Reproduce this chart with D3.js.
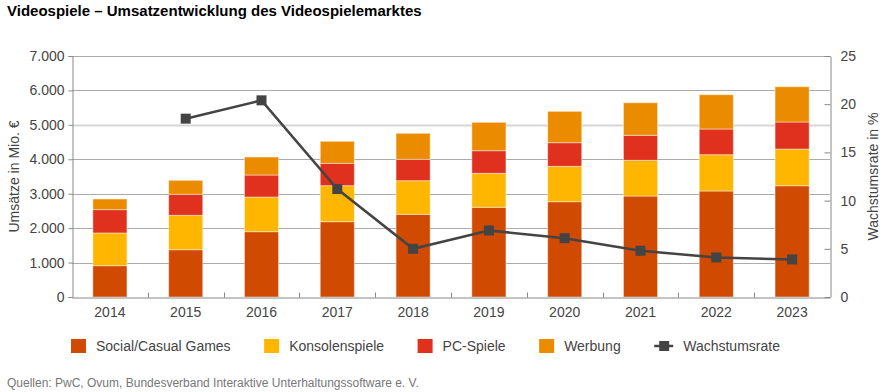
<!DOCTYPE html>
<html>
<head>
<meta charset="utf-8">
<script src="https://cdn.jsdelivr.net/npm/d3@7"></script>
<style>
  body { margin: 0; background: #fff; }
  svg { display: block; font-family: "Liberation Sans", Arial, sans-serif; }
</style>
</head>
<body>
<div id="app"></div>
<script>
// data
const years = ['2014', '2015', '2016', '2017', '2018', '2019', '2020', '2021', '2022', '2023'];
const socialCasual = [910, 1374, 1897, 2187, 2402, 2605, 2768, 2933, 3079, 3233];
const konsolen = [950, 999, 1007, 1046, 976, 988, 1028, 1037, 1054, 1065];
const pcSpiele = [677, 610, 639, 650, 621, 656, 686, 726, 746, 785];
const werbung = [310, 406, 523, 639, 755, 825, 911, 947, 997, 1025];
const wachstum = [null, 18.5, 20.4, 11.2, 5.0, 6.9, 6.1, 4.8, 4.1, 3.9];

const seriesNames = ['Social/Casual Games', 'Konsolenspiele', 'PC-Spiele', 'Werbung'];
const seriesColors = ['#d04a02', '#ffb600', '#e0301e', '#eb8c00'];
const leftTicks = [0, 1000, 2000, 3000, 4000, 5000, 6000, 7000];
const rightTicks = [0, 5, 10, 15, 20, 25];

const W = 885, H = 392;
const plotLeft = 72, plotRight = 830, plotTop = 56, plotBottom = 297;
const lineColor = '#444';

const svg = d3.select('#app').append('svg').attr('width', W).attr('height', H);

const x = d3.scaleBand().domain(years).range([plotLeft, plotRight]).paddingInner(0.55).paddingOuter(0.275);
const y = d3.scaleLinear().domain([0, 7000]).range([plotBottom, plotTop]);
const y2 = d3.scaleLinear().domain([0, 25]).range([plotBottom, plotTop]);

// title
svg.append('text')
	.attr('x', 7).attr('y', 16)
	.attr('font-size', 15).attr('font-weight', 'bold').attr('fill', '#000')
	.text('Videospiele – Umsatzentwicklung des Videospielemarktes');

// gridlines
svg.append('g')
	.selectAll('line')
	.data(leftTicks.filter((d) => d > 0))
	.join('line')
	.attr('x1', plotLeft).attr('x2', plotRight)
	.attr('y1', (d) => Math.round(y(d)) + 0.5).attr('y2', (d) => Math.round(y(d)) + 0.5)
	.attr('stroke', (d) => (d === 5000 ? '#d6d6d6' : '#ababab'))
	.attr('stroke-width', (d) => (d === 5000 ? 2 : 1));

// stacked bars
const table = years.map((yr, i) => ({
	year: yr,
	'Social/Casual Games': socialCasual[i],
	Konsolenspiele: konsolen[i],
	'PC-Spiele': pcSpiele[i],
	Werbung: werbung[i],
}));
const stacked = d3.stack().keys(seriesNames)(table);

svg.append('g')
	.selectAll('g')
	.data(stacked)
	.join('g')
	.attr('fill', (d, i) => seriesColors[i])
	.selectAll('rect')
	.data((d) => d)
	.join('rect')
	.attr('x', (d) => x(d.data.year))
	.attr('width', x.bandwidth())
	.attr('y', (d) => y(d[1]))
	.attr('height', (d) => y(d[0]) - y(d[1]))
	.attr('stroke', 'rgba(255,255,255,0.45)')
	.attr('stroke-width', 1);

const fontFam = '"Liberation Sans", Arial, sans-serif';

// left axis
const leftAxis = svg.append('g')
	.attr('transform', `translate(${plotLeft + 0.5},0)`)
	.call(d3.axisLeft(y).tickValues(leftTicks).tickSize(4).tickPadding(4)
		.tickFormat((d) => d3.format(',')(d).replace(/,/g, '.')));
leftAxis.select('.domain').attr('stroke', '#888');
leftAxis.selectAll('.tick line').attr('stroke', '#888');
leftAxis.selectAll('.tick text').attr('font-size', 14).attr('fill', '#444').attr('font-family', fontFam);

// right axis
const rightAxis = svg.append('g')
	.attr('transform', `translate(${plotRight + 0.5},0)`)
	.call(d3.axisRight(y2).tickValues(rightTicks).tickSize(0).tickPadding(10));
rightAxis.select('.domain').attr('stroke', '#888');
rightAxis.selectAll('.tick text').attr('font-size', 14).attr('fill', '#444').attr('font-family', fontFam);
rightAxis.selectAll('.tick')
	.append('line')
	.attr('x1', -6).attr('x2', 0)
	.attr('stroke', '#888');

// bottom axis
const bottomAxis = svg.append('g')
	.attr('transform', `translate(0,${plotBottom + 0.5})`)
	.call(d3.axisBottom(x).tickSize(0).tickPadding(10));
bottomAxis.select('.domain').attr('stroke', '#888');
bottomAxis.selectAll('.tick text').attr('font-size', 14).attr('fill', '#444').attr('font-family', fontFam);
bottomAxis.selectAll('line.sep')
	.data(years.slice(1))
	.join('line')
	.attr('class', 'sep')
	.attr('x1', (d) => Math.round(x(d) - x.step() * x.paddingInner() / 2) + 0.5)
	.attr('x2', (d) => Math.round(x(d) - x.step() * x.paddingInner() / 2) + 0.5)
	.attr('y1', 0).attr('y2', -5)
	.attr('stroke', '#888');

// axis titles
svg.append('text')
	.attr('transform', `translate(19,${(plotTop + plotBottom) / 2}) rotate(-90)`)
	.attr('text-anchor', 'middle')
	.attr('font-size', 14).attr('fill', '#444')
	.text('Umsätze in Mio. €');
svg.append('text')
	.attr('transform', `translate(878,${(plotTop + plotBottom) / 2}) rotate(-90)`)
	.attr('text-anchor', 'middle')
	.attr('font-size', 14).attr('fill', '#444')
	.text('Wachstumsrate in %');

// growth line
const pts = years.map((yr, i) => ({ year: yr, v: wachstum[i] })).filter((d) => d.v !== null);
const cx = (d) => x(d.year) + x.bandwidth() / 2;
svg.append('path')
	.datum(pts)
	.attr('fill', 'none')
	.attr('stroke', lineColor)
	.attr('stroke-width', 2.5)
	.attr('d', d3.line().x(cx).y((d) => y2(d.v)));
svg.append('g')
	.selectAll('rect')
	.data(pts)
	.join('rect')
	.attr('x', (d) => cx(d) - 5)
	.attr('y', (d) => y2(d.v) - 5)
	.attr('width', 10).attr('height', 10)
	.attr('fill', lineColor);

// legend
const legend = svg.append('g').attr('transform', 'translate(71,346)');
const legendItems = seriesNames.map((n, i) => ({ name: n, color: seriesColors[i], type: 'bar' }))
	.concat([{ name: 'Wachstumsrate', color: lineColor, type: 'line' }]);
let lx = 0;
legendItems.forEach((item) => {
	const g = legend.append('g').attr('transform', `translate(${lx},0)`);
	if (item.type === 'bar') {
		g.append('rect').attr('x', 0).attr('y', -7).attr('width', 15).attr('height', 14).attr('fill', item.color);
	} else {
		g.append('line').attr('x1', 0).attr('x2', 19).attr('y1', 0).attr('y2', 0)
			.attr('stroke', item.color).attr('stroke-width', 2.5);
		g.append('rect').attr('x', 5).attr('y', -5).attr('width', 10).attr('height', 10).attr('fill', item.color);
	}
	const t = g.append('text')
		.attr('x', item.type === 'bar' ? 25 : 29).attr('y', 5)
		.attr('font-size', 14).attr('fill', '#444')
		.text(item.name);
	lx += (item.type === 'bar' ? 25 : 29) + t.node().getComputedTextLength() + 33.5;
});

// source
svg.append('text')
	.attr('x', 7).attr('y', 387)
	.attr('font-size', 12).attr('fill', '#777')
	.text('Quellen: PwC, Ovum, Bundesverband Interaktive Unterhaltungssoftware e. V.');
</script>
</body>
</html>
